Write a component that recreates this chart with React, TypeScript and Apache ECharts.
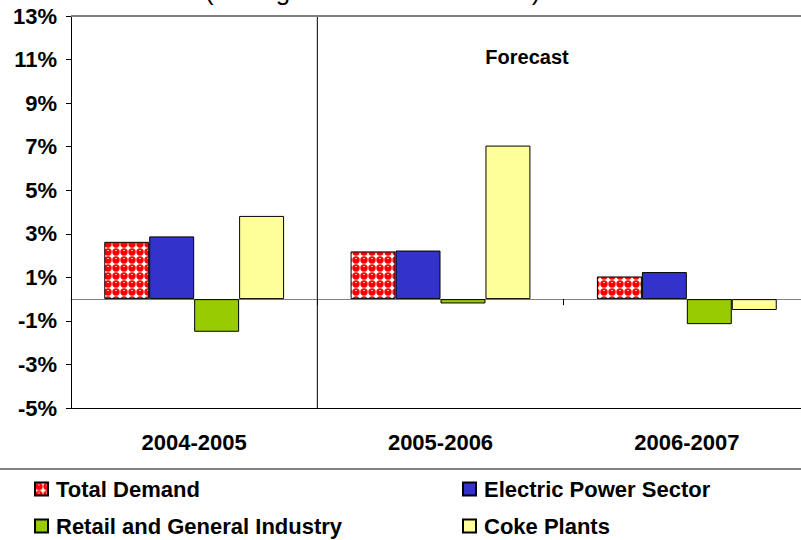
import React, { useEffect, useRef } from "react";
import * as echarts from "echarts";

const categories = ["2004-2005", "2005-2006", "2006-2007"];
const seriesNames = [
  "Total Demand",
  "Electric Power Sector",
  "Retail and General Industry",
  "Coke Plants",
];
const totalDemand = [2.63, 2.19, 1.04];
const electricPower = [2.88, 2.23, 1.24];
const retailGeneral = [-1.5, -0.2, -1.15];
const cokePlants = [3.82, 7.05, -0.5];
const yMin = -5;
const yMax = 13;
const yStep = 2;
const forecastBoundary = 1; // boundary (in category units) where the forecast begins
const titleText = "(Change from Previous Year)";
const forecastText = "Forecast";

const FONT = 'Arial, "Liberation Sans", Helvetica, sans-serif';

function makePattern(): HTMLCanvasElement {
  const c = document.createElement("canvas");
  c.width = 8;
  c.height = 8;
  const ctx = c.getContext("2d")!;
  ctx.fillStyle = "#ffffff";
  ctx.fillRect(0, 0, 8, 8);
  ctx.fillStyle = "#ff0000";
  ctx.beginPath();
  ctx.arc(4, 4, 3.7, 0, Math.PI * 2);
  ctx.fill();
  ctx.fillStyle = "#ffb0b0";
  ctx.fillRect(3, 2, 2, 1);
  return c;
}

export default function App() {
  const ref = useRef<HTMLDivElement>(null);
  useEffect(() => {
    if (!ref.current) return;
    document.documentElement.style.overflow = "hidden";
    document.body.style.overflow = "hidden";
    const chart = echarts.init(ref.current, null, { renderer: "svg" });
    const pattern = makePattern();
    const patternColor: any = {
      image: pattern,
      repeat: "repeat",
      imageWidth: 8,
      imageHeight: 8,
    };
    const colors = [patternColor, "#3333CC", "#99CC00", "#FFFF99"];
    const values = [totalDemand, electricPower, retailGeneral, cokePlants];
    const labelStyle = {
      fontFamily: FONT,
      fontWeight: "bold" as const,
      fontSize: 22,
      color: "#000",
    };
    const series: any[] = seriesNames.map((name, i) => ({
      name,
      type: "bar",
      xAxisIndex: 0,
      barGap: "0%",
      barCategoryGap: "27%",
      data: values[i],
      itemStyle: {
        color: colors[i],
        borderColor: "#000",
        borderWidth: 1,
      },
      ...(i === 0
        ? {
            markLine: {
              silent: true,
              symbol: ["none", "none"],
              label: { show: false },
              lineStyle: { color: "#808080", width: 2, type: "solid" },
              data: [{ yAxis: yMax }],
            },
          }
        : {}),
    }));
    series.push({
      name: "forecast-divider",
      type: "line",
      xAxisIndex: 2,
      data: [
        [forecastBoundary, yMin],
        [forecastBoundary, yMax],
      ],
      symbol: "none",
      silent: true,
      lineStyle: { color: "#000", width: 1 },
      z: 1,
    });

    chart.setOption({
      animation: false,
      backgroundColor: "#ffffff",
      grid: { left: 71, top: 16, bottom: 132, right: 1, containLabel: false },
      xAxis: [
        {
          type: "category",
          data: categories,
          position: "bottom",
          axisLine: { onZero: true, lineStyle: { color: "#808080", width: 1 } },
          axisTick: { show: true, length: 6, lineStyle: { color: "#000" } },
          axisLabel: { show: false },
          splitLine: { show: false },
        },
        {
          type: "category",
          data: categories,
          position: "bottom",
          axisLine: { onZero: false, lineStyle: { color: "#000", width: 1 } },
          axisTick: { show: false },
          axisLabel: { ...labelStyle, margin: 23 },
          splitLine: { show: false },
        },
        {
          type: "value",
          min: 0,
          max: categories.length,
          show: false,
        },
      ],
      yAxis: {
        type: "value",
        min: yMin,
        max: yMax,
        interval: yStep,
        axisLine: { show: true, lineStyle: { color: "#000", width: 1 } },
        axisTick: { show: true, length: 5, lineStyle: { color: "#000" } },
        splitLine: { show: false },
        axisLabel: {
          ...labelStyle,
          margin: 14,
          formatter: (v: number) => `${v}%`,
        },
      },
      legend: [
        {
          data: [seriesNames[0], seriesNames[2]],
          orient: "vertical",
          left: 34,
          top: 478,
          padding: 0,
          itemWidth: 13,
          itemHeight: 13,
          itemGap: 15,
          icon: "rect",
          selectedMode: false,
          textStyle: { ...labelStyle, lineHeight: 22, padding: [0, 0, 0, 3] },
        },
        {
          data: [seriesNames[1], seriesNames[3]],
          orient: "vertical",
          left: 462,
          top: 478,
          padding: 0,
          itemWidth: 13,
          itemHeight: 13,
          itemGap: 15,
          icon: "rect",
          selectedMode: false,
          textStyle: { ...labelStyle, lineHeight: 22, padding: [0, 0, 0, 3] },
        },
      ],
      graphic: [
        {
          type: "text",
          x: 205,
          y: -9,
          style: {
            text: titleText,
            font: `normal 26px ${FONT}`,
            fill: "#000",
            textVerticalAlign: "middle",
          },
        },
        {
          type: "text",
          x: 527,
          y: 57,
          style: {
            text: forecastText,
            font: `bold 20px ${FONT}`,
            fill: "#000",
            textAlign: "center",
            textVerticalAlign: "middle",
          },
        },
        {
          type: "line",
          shape: { x1: 0, y1: 469, x2: 811, y2: 469 },
          style: { stroke: "#808080", lineWidth: 2 },
        },
      ],
      series,
    });
    return () => chart.dispose();
  }, []);
  return (
    <div
      ref={ref}
      style={{ position: "absolute", left: 0, top: 0, width: 811, height: 540 }}
    />
  );
}
